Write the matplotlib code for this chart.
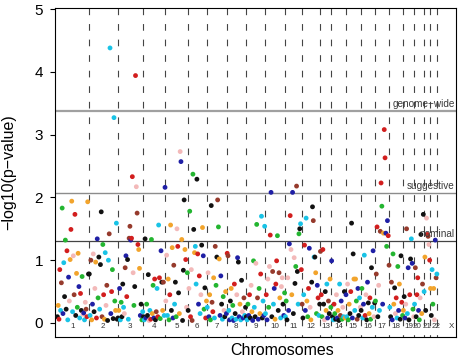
import numpy as np
import matplotlib
matplotlib.use("Agg")
import matplotlib.pyplot as plt

# -log10(p) per chromosome, in marker order, plus a colour code per marker
# c=cyan r=red b=blue p=pink g=green k=black o=orange n=brown
chr1_vals = [0.10, 0.28, 0.06, 0.85, 0.20, 0.64, 1.83, 0.15, 0.96, 0.42, 1.32, 0.22, 1.15, 0.05, 0.73, 0.35,
             1.01, 1.49, 1.94, 0.18, 1.07, 0.45, 1.73, 0.12, 0.79, 0.25, 1.11, 0.58, 0.08, 0.47, 0.20, 0.74,
             0.14, 0.16, 0.05, 0.33, 0.22, 0.10, 1.93, 0.78]
chr1_cols = "korrcngbckgkrcbporocpnrkogobcrkgpbcpnrok"
chr2_vals = [0.78, 0.12, 1.00, 0.05, 0.30, 1.10, 0.18, 0.55, 0.97, 0.08, 1.34, 0.40, 1.05, 0.22, 0.93, 1.77,
             0.10, 1.25, 0.45, 0.06, 1.12, 0.28, 0.60, 0.04, 1.00, 1.42, 4.38, 0.15, 0.50, 0.85, 0.07, 3.27,
             0.35, 0.20, 1.59, 0.06]
chr2_cols = "kcnobpkporbgkckkngrocpnkcncbrgkcgock"
chr3_vals = [0.08, 0.20, 0.55, 0.05, 0.33, 0.10, 0.62, 0.25, 0.15, 0.88, 1.07, 0.42, 1.01, 0.06, 1.35, 1.54,
             1.32, 1.35, 2.33, 0.80, 0.28, 0.58, 3.94, 2.17, 1.75, 1.25, 1.17, 0.87, 0.12, 0.30, 0.05, 0.18]
chr3_cols = "kobcgkkcpnbrkcnnbrrpgkrpnroobkgc"
chr4_vals = [0.10, 0.05, 1.34, 0.08, 0.30, 0.12, 0.77, 0.04, 0.20, 0.06, 1.33, 0.15, 0.60, 0.08, 0.70, 0.05,
             0.18, 0.55, 0.10, 1.56, 0.72, 0.07, 1.15, 0.65, 0.20, 0.65, 0.12, 2.16]
chr4_cols = "kckbgkkpcrgogbrkncrcrgbkoncb"
chr5_vals = [0.35, 1.08, 0.12, 0.70, 0.05, 0.45, 1.56, 0.20, 1.20, 0.08, 0.92, 0.30, 0.65, 0.10, 1.50, 1.22,
             0.48, 0.15, 2.73, 2.57, 1.33, 0.04, 0.84, 1.96, 1.17, 1.01, 0.25, 0.80]
chr5_cols = "ppcogrokobnckgprkopbokkkorpg"
chr6_vals = [0.20, 0.55, 1.78, 0.10, 0.85, 0.04, 2.37, 1.49, 1.12, 1.22, 0.62, 2.29, 1.10, 0.30, 0.75, 0.15,
             0.45, 1.24, 1.52, 1.07, 0.22, 0.56, 0.08, 0.35]
chr6_cols = "kpgrpngkocckrbrcpkobgkro"
chr7_vals = [0.25, 0.80, 0.10, 0.45, 0.05, 1.87, 0.33, 0.18, 0.72, 0.08, 1.22, 0.60, 1.05, 1.96, 1.53, 1.02,
             0.12, 0.75, 0.30, 0.06, 0.42, 0.20, 0.10, 0.50, 0.15]
chr7_cols = "cpbogknrocngkngobbkcgpkob"
chr8_vals = [1.11, 1.07, 0.20, 0.05, 0.35, 0.55, 0.08, 0.28, 0.04, 0.62, 0.15, 0.06, 0.45, 1.04, 0.97, 0.10,
             0.30, 0.05, 0.68, 0.18, 0.08, 0.40, 0.12, 0.25]
chr8_cols = "rncbkocgbrkcpbkbockpbnck"
chr9_vals = [0.10, 0.05, 0.30, 0.12, 0.45, 0.08, 0.60, 0.18, 0.04, 0.99, 0.25, 0.10, 0.95, 1.57, 0.40, 0.06,
             0.55, 0.15, 0.78, 1.70, 0.08, 0.35, 0.12, 1.54]
chr9_cols = "kcgbrkpobgckpgnbgorckcbc"
chr10_vals = [0.15, 0.45, 0.05, 0.70, 0.25, 0.90, 1.40, 2.08, 0.10, 0.82, 0.30, 0.55, 0.06, 0.62, 0.99, 1.39,
              0.20, 0.80, 0.40, 0.08, 0.58, 0.72, 0.30, 0.12, 0.48]
chr10_cols = "crbpgprbkncborrgknocppkbg"
chr11_vals = [0.10, 0.35, 0.05, 0.72, 0.20, 1.26, 1.71, 1.17, 0.45, 2.08, 0.15, 1.04, 0.63, 0.90, 2.18, 0.82,
              0.30, 1.42, 1.50, 1.58, 0.85]
chr11_cols = "cgkpbbrpobkpkgnkcgkcr"
chr12_vals = [0.30, 0.08, 0.45, 1.24, 0.20, 1.67, 0.35, 0.10, 0.55, 1.19, 0.25, 0.05, 0.65, 1.85, 1.63, 1.05,
              1.05, 0.80, 0.15, 0.60, 0.40, 0.12, 0.30]
chr12_cols = "nkcrbcogrbpokknckogbrck"
chr13_vals = [1.14, 0.45, 0.10, 1.17, 0.30, 0.05, 0.50, 0.20, 0.62, 0.08, 0.35, 0.15, 0.70, 0.25]
chr13_cols = "nrgrkpkocbnkog"
chr14_vals = [0.99, 0.10, 0.05, 0.30, 0.15, 0.06, 0.45, 0.08, 0.20, 0.04, 0.62, 0.12, 0.35, 0.06, 0.25, 0.10,
              0.50, 0.08]
chr14_cols = "bkcrgkpbokcnbgpcko"
chr15_vals = [0.45, 0.10, 0.62, 0.05, 0.30, 0.15, 0.50, 1.59, 0.08, 1.10, 0.70, 0.20, 0.70, 0.35, 0.06, 0.55,
              0.12, 0.40, 0.25]
chr15_cols = "bcpgokrkbkocognbkcp"
chr16_vals = [0.20, 0.55, 0.08, 0.30, 1.08, 0.12, 0.45, 0.05, 0.65, 0.32, 0.15, 0.40, 0.06, 0.88, 0.25, 1.15,
              0.10, 0.32]
chr16_cols = "kgcbcrpkbkorgkcbpk"
chr17_vals = [0.35, 0.78, 1.53, 0.10, 0.60, 0.20, 1.46, 2.23, 1.86, 0.30, 1.43, 3.08, 2.63, 1.43, 1.22, 1.63,
              1.39, 0.92]
chr17_cols = "gnrkpcnrgborrbgbrn"
chr18_vals = [0.25, 0.10, 0.65, 0.05, 1.10, 0.30, 0.56, 0.15, 0.40, 0.08, 0.90, 0.20, 0.62, 0.06, 1.07, 0.33,
              0.12]
chr18_cols = "cknbgokprcgbokkrg"
chr19_vals = [0.20, 0.42, 0.08, 0.30, 1.50, 0.15, 0.88, 0.05, 0.45, 1.02, 1.34, 0.95, 0.22, 0.10]
chr19_cols = "okbpncbkrkcbgp"
chr20_vals = [0.30, 0.88, 0.10, 0.45, 0.72, 0.20, 0.05, 0.40, 1.41, 0.15, 0.62, 1.73]
chr20_cols = "cnkrrbgpkonk"
chr21_vals = [0.50, 1.05, 0.20, 1.67, 1.41, 1.38, 1.25, 1.00]
chr21_cols = "cokprnpr"
chr22_vals = [0.55, 0.12, 0.85, 0.30, 0.55, 0.05, 1.32, 0.72, 0.78]
chr22_cols = "okcgopbnc"

chrom_labels = ["1", "2", "3", "4", "5", "6", "7", "8", "9", "10", "11", "12",
                "13", "14", "15", "16", "17", "18", "19", "20", "21", "22", "X"]
chrX_span = 36  # no markers plotted on X

thresholds = [3.37, 2.07, 1.30]
threshold_labels = ["genome\u2212wide", "suggestive", "nominal"]

all_vals = [chr1_vals, chr2_vals, chr3_vals, chr4_vals, chr5_vals, chr6_vals, chr7_vals, chr8_vals,
            chr9_vals, chr10_vals, chr11_vals, chr12_vals, chr13_vals, chr14_vals, chr15_vals, chr16_vals,
            chr17_vals, chr18_vals, chr19_vals, chr20_vals, chr21_vals, chr22_vals]
all_cols = [chr1_cols, chr2_cols, chr3_cols, chr4_cols, chr5_cols, chr6_cols, chr7_cols, chr8_cols,
            chr9_cols, chr10_cols, chr11_cols, chr12_cols, chr13_cols, chr14_cols, chr15_cols, chr16_cols,
            chr17_cols, chr18_cols, chr19_cols, chr20_cols, chr21_cols, chr22_cols]

palette = {"c": "#19c3e6", "r": "#d21e1e", "b": "#1f1fa5", "p": "#f3b9b9",
           "g": "#23b530", "k": "#111111", "o": "#f2a42c", "n": "#963a2c"}

plt.rcParams["font.family"] = ["Liberation Sans", "DejaVu Sans"]

fig = plt.figure(figsize=(4.6, 3.6), dpi=100)
ax = fig.add_axes([55 / 460, 23 / 360, 401 / 460, 329 / 360])

# cumulative marker positions
xs, ys, cs, mids, bounds = [], [], [], [], []
offset = 0
for vals, cols in zip(all_vals, all_cols):
    n = len(vals)
    xs.extend(offset + np.arange(n) + 0.5)
    ys.extend(vals)
    cs.extend(palette[c] for c in cols)
    mids.append(offset + n / 2)
    offset += n
    bounds.append(offset)
mids.append(offset + chrX_span / 2)

# the last small chromosomes are too narrow for their labels, spread them a bit
mids[19] -= 2.0
mids[21] += 3.5

ymin, ymax = -0.223, 5.016
ax.vlines(bounds, ymax, ymin, colors="#444444", linewidth=0.8, linestyles=(0, (6, 8)), zorder=1)

ax.axhline(thresholds[0], color="#a0a0a0", linewidth=1.6, zorder=1)
ax.axhline(thresholds[1], color="#8c8c8c", linewidth=1.0, zorder=1)
ax.axhline(thresholds[2], color="#444444", linewidth=0.9, zorder=1)

ax.scatter(xs, ys, c=cs, s=12, linewidths=0, zorder=3)

for y, lab in zip(thresholds, threshold_labels):
    ax.text(0.997, y + 0.115, lab, transform=ax.get_yaxis_transform(), ha="right", va="center",
            fontsize=7.2, color="#3a3a3a", zorder=4)

for m, lab in zip(mids, chrom_labels):
    ax.text(m, -0.048, lab, ha="center", va="center", fontsize=5.8, color="#333333", zorder=4)

ax.set_xlim(-2.5, offset + 23.5)
ax.set_ylim(ymin, ymax)
ax.set_xticks([])
ax.set_yticks([0, 1, 2, 3, 4, 5])
ax.tick_params(axis="y", direction="out", length=3.6, width=0.8, pad=5, labelsize=11)
for sp in ax.spines.values():
    sp.set_linewidth(0.8)

ax.set_ylabel("\u2212log10(p\u2212value)", fontsize=11.5, va="center")
ax.yaxis.set_label_coords(-0.115, 0.5)
ax.set_xlabel("Chromosomes", fontsize=11.5, va="center")
ax.xaxis.set_label_coords(0.566, -0.04)

fig.savefig("out.png", dpi=100)
